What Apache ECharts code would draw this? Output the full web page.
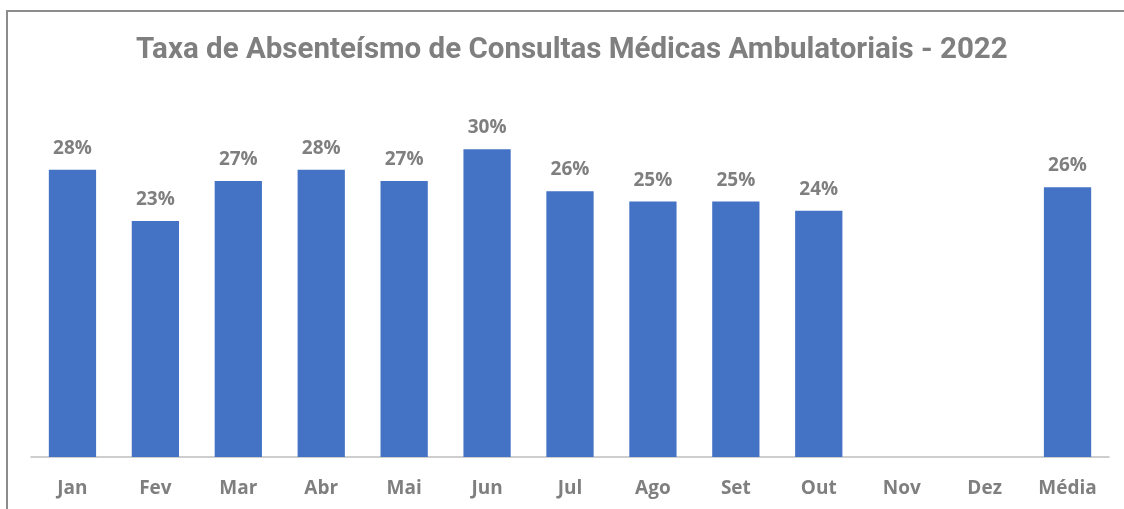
<!DOCTYPE html>
<html>
<head>
<meta charset="utf-8">
<script src="https://cdn.jsdelivr.net/npm/echarts@6/dist/echarts.min.js"></script>
<style>
  html, body { margin: 0; padding: 0; background: #fff; }
  #main { width: 1124px; height: 509px; }
</style>
</head>
<body>
<div id="main"></div>
<script>
// categories and values (percent)
const categories = ['Jan', 'Fev', 'Mar', 'Abr', 'Mai', 'Jun', 'Jul', 'Ago', 'Set', 'Out', 'Nov', 'Dez', 'Média']
const absenteeism = [28.0, 23.0, 26.9, 28.0, 26.9, 30.0, 25.9, 24.9, 24.9, 24.0, null, null, 26.3]

const chart = echarts.init(document.getElementById('main'))
const gray = '#7f7f7f'

chart.setOption({
  animation: false,
  title: {
    text: 'Taxa de Absenteísmo de Consultas Médicas Ambulatoriais - 2022',
    left: 131,
    top: 31,
    textStyle: {
      color: gray,
      fontSize: 29.5,
      fontWeight: 'bold',
      fontFamily: 'Roboto, sans-serif'
    }
  },
  graphic: [{
    type: 'rect',
    shape: { x: 7, y: 11, width: 1140, height: 530 },
    style: { fill: 'none', stroke: '#8c8c8c', lineWidth: 2 },
    silent: true
  }],
  grid: {
    left: 31,
    right: 15,
    top: 98,
    bottom: 52
  },
  xAxis: {
    type: 'category',
    data: categories,
    axisTick: { show: false },
    axisLine: { lineStyle: { color: '#bfbfbf', width: 1.5 } },
    axisLabel: {
      color: gray,
      fontSize: 19,
      fontWeight: 'bold',
      fontFamily: 'Open Sans, sans-serif',
      margin: 22
    }
  },
  yAxis: {
    type: 'value',
    min: 0,
    max: 35,
    show: false,
    splitLine: { show: false }
  },
  series: [{
    type: 'bar',
    data: absenteeism,
    barWidth: '57%',
    itemStyle: { color: '#4472c4' },
    label: {
      show: true,
      position: 'top',
      distance: 12,
      color: gray,
      fontSize: 19,
      fontWeight: 'bold',
      fontFamily: 'Open Sans, sans-serif',
      formatter: p => Math.round(p.value) + '%'
    }
  }]
})
</script>
</body>
</html>
